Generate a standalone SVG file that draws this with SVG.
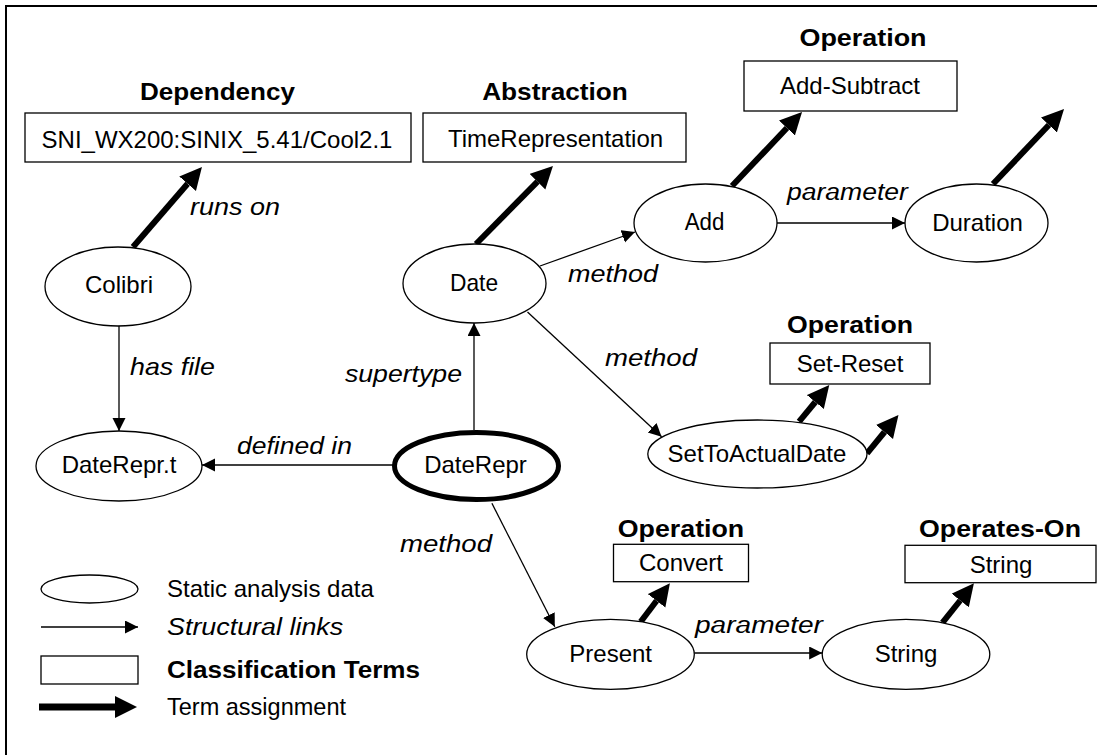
<svg xmlns="http://www.w3.org/2000/svg" width="1097" height="755" viewBox="0 0 1097 755">
<style>
text{font-family:"Liberation Sans",Arial,sans-serif;fill:#000}
.n{font-size:24px;text-anchor:middle}
.h{font-size:23px;font-weight:bold;text-anchor:middle}
.l{font-size:24px;font-style:italic}
.lg{font-size:24px}
ellipse,rect.box{fill:#fff;stroke:#000;stroke-width:1.3}
.thin{stroke:#000;stroke-width:1.3;fill:none;marker-end:url(#ah)}
.thick{stroke:#000;stroke-width:6;fill:none;marker-end:url(#tah)}
</style>
<defs>
<marker id="ah" markerUnits="userSpaceOnUse" markerWidth="14" markerHeight="14" refX="13" refY="6.5" orient="auto"><path d="M0,0 L13,6.5 L0,13 z" fill="#000"/></marker>
<marker id="tah" markerUnits="userSpaceOnUse" markerWidth="24" markerHeight="24" refX="0" refY="11" orient="auto"><path d="M0,0 L22,11 L0,22 z" fill="#000"/></marker>
</defs>
<rect x="6" y="6" width="1100" height="760" fill="#fff" stroke="#000" stroke-width="2"/>

<g id="connectors">
<line class="thick" x1="133" y1="247" x2="187.6" y2="183.7"/>
<line class="thick" x1="476" y1="244" x2="537.5" y2="181.7"/>
<line class="thick" x1="732" y1="186" x2="786.9" y2="128"/>
<line class="thick" x1="993" y1="184" x2="1048.9" y2="125"/>
<line class="thick" x1="799.1" y1="421.7" x2="815.3" y2="402"/>
<line class="thick" x1="867" y1="453.3" x2="884.5" y2="432"/>
<line class="thick" x1="640.7" y1="621.7" x2="656.6" y2="600.8"/>
<line class="thick" x1="942.5" y1="622.7" x2="960.2" y2="600.5"/>
<line class="thin" x1="540" y1="266" x2="635" y2="232"/>
<line class="thin" x1="777" y1="223" x2="905" y2="223"/>
<line class="thin" x1="119" y1="326" x2="119" y2="431"/>
<line class="thin" x1="394" y1="465" x2="202" y2="465"/>
<line class="thin" x1="474" y1="430" x2="474" y2="323"/>
<line class="thin" x1="527.5" y1="312" x2="661.6" y2="436.7"/>
<line class="thin" x1="491.9" y1="503.3" x2="554.8" y2="626.7"/>
<line class="thin" x1="694.3" y1="653" x2="822.2" y2="653"/>
<text class="l" transform="translate(190,215) scale(1.125,1)">runs on</text>
<text class="l" transform="translate(568,282) scale(1.125,1)">method</text>
<text class="l" transform="translate(787,200) scale(1.106,1)">parameter</text>
<text class="l" transform="translate(130,375) scale(1.118,1)">has file</text>
<text class="l" transform="translate(345,382) scale(1.11,1)">supertype</text>
<text class="l" transform="translate(237,454) scale(1.105,1)">defined in</text>
<text class="l" transform="translate(605,366) scale(1.15,1)">method</text>
<text class="l" transform="translate(400,552) scale(1.15,1)">method</text>
<text class="l" transform="translate(695,633) scale(1.17,1)">parameter</text>
</g>

<g id="term-dependency">
<text class="h" transform="translate(217.5,100) scale(1.133,1)">Dependency</text>
<rect class="box" x="25" y="113" width="386" height="49"/>
<text class="n" x="217" y="148">SNI_WX200:SINIX_5.41/Cool2.1</text>
</g>
<g id="term-abstraction">
<text class="h" transform="translate(555,100) scale(1.14,1)">Abstraction</text>
<rect class="box" x="423" y="113" width="263" height="49"/>
<text class="n" x="555.5" y="147">TimeRepresentation</text>
</g>
<g id="term-add-subtract">
<text class="h" transform="translate(863,46) scale(1.17,1)">Operation</text>
<rect class="box" x="744" y="61" width="213" height="50"/>
<text class="n" x="850" y="94">Add-Subtract</text>
</g>
<g id="term-set-reset">
<text class="h" transform="translate(850,333) scale(1.16,1)">Operation</text>
<rect class="box" x="770" y="343" width="160" height="41"/>
<text class="n" x="850" y="372">Set-Reset</text>
</g>
<g id="term-convert">
<text class="h" transform="translate(681,537) scale(1.165,1)">Operation</text>
<rect class="box" x="613.5" y="544.3" width="135" height="37.4"/>
<text class="n" x="681" y="571">Convert</text>
</g>
<g id="term-string">
<text class="h" transform="translate(1000,537) scale(1.163,1)">Operates-On</text>
<rect class="box" x="905" y="545.3" width="191" height="37.4"/>
<text class="n" x="1001" y="573">String</text>
</g>

<g id="node-colibri">
<ellipse cx="118" cy="286.5" rx="73" ry="39.5"/>
<text class="n" x="119" y="293">Colibri</text>
</g>
<g id="node-date">
<ellipse cx="474.5" cy="283.5" rx="71.5" ry="39.5"/>
<text class="n" transform="translate(474,291) scale(0.95,1)">Date</text>
</g>
<g id="node-add">
<ellipse cx="705.5" cy="223" rx="71.5" ry="39"/>
<text class="n" transform="translate(704.5,230) scale(0.93,1)">Add</text>
</g>
<g id="node-duration">
<ellipse cx="976.5" cy="223" rx="71.5" ry="39"/>
<text class="n" x="977.5" y="231">Duration</text>
</g>
<g id="node-daterepr-t">
<ellipse cx="119" cy="466" rx="83" ry="35"/>
<text class="n" x="119" y="473">DateRepr.t</text>
</g>
<g id="node-daterepr">
<ellipse cx="476.5" cy="466" rx="82" ry="33.5" style="stroke-width:5"/>
<text class="n" x="475.5" y="473">DateRepr</text>
</g>
<g id="node-settoactualdate">
<ellipse cx="757.4" cy="454" rx="109.6" ry="34"/>
<text class="n" x="757" y="462">SetToActualDate</text>
</g>
<g id="node-present">
<ellipse cx="610.5" cy="654.3" rx="83.8" ry="35"/>
<text class="n" x="610.7" y="662">Present</text>
</g>
<g id="node-string">
<ellipse cx="906" cy="654.3" rx="83.8" ry="35"/>
<text class="n" x="906" y="662">String</text>
</g>

<g id="legend">
<ellipse cx="89.5" cy="589" rx="48.5" ry="14"/>
<text class="lg" x="167" y="597">Static analysis data</text>
<line class="thin" x1="41" y1="627" x2="138" y2="627"/>
<text class="l" transform="translate(167,635) scale(1.12,1)">Structural links</text>
<rect class="box" x="41" y="656" width="97" height="28"/>
<text class="lg" font-weight="bold" transform="translate(167,678) scale(1.087,1)">Classification Terms</text>
<line class="thick" x1="39" y1="707" x2="115" y2="707" style="stroke-width:7"/>
<text class="lg" transform="translate(167,715) scale(0.98,1)">Term assignment</text>
</g>
</svg>
